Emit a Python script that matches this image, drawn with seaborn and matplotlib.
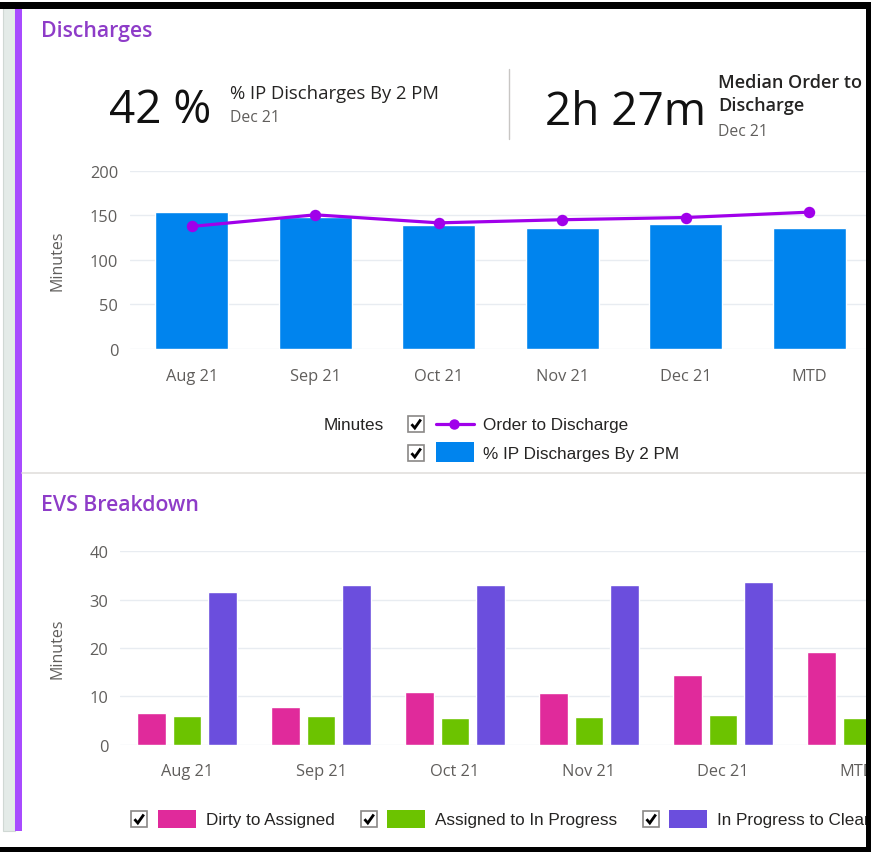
import matplotlib
matplotlib.use("Agg")
import matplotlib.pyplot as plt
from matplotlib.patches import Rectangle
from matplotlib.lines import Line2D
import seaborn as sns
import pandas as pd

# ---------------- data ----------------
months = ["Aug 21", "Sep 21", "Oct 21", "Nov 21", "Dec 21", "MTD"]
ip_discharges_by_2pm = [154, 148, 139, 136, 140.5, 135.5]
order_to_discharge = [137.5, 150.5, 141.5, 145, 147.5, 153.5]

evs_series = ["Dirty to Assigned", "Assigned to In Progress", "In Progress to Clean"]
dirty_to_assigned = [6.5, 7.8, 11.0, 10.6, 14.4, 19.2]
assigned_to_in_progress = [5.9, 5.9, 5.6, 5.7, 6.1, 5.5]
in_progress_to_clean = [31.5, 33.0, 33.1, 33.0, 33.6, 32.0]

top_yticks = [0, 50, 100, 150, 200]
bottom_yticks = [0, 10, 20, 30, 40]

# ---------------- style ----------------
sns.set_style("white")
plt.rcParams["font.family"] = ["Open Sans", "DejaVu Sans"]

BLUE = "#0084EE"
LINE_PURPLE = "#A000EA"
PINK = "#E02A9B"
GREEN = "#6CC300"
VIOLET = "#6B4EDD"
TITLE_PURPLE = "#8E3CC8"
GRAY_TXT = "#605E5C"
GRID = "#E8ECF1"

W, H = 871, 853
fig = plt.figure(figsize=(W / 100, H / 100), dpi=100)
fig.patch.set_facecolor("white")


def ax_rect(left, top, right, bottom):
    return [left / W, 1 - bottom / H, (right - left) / W, (bottom - top) / H]


# ---------------- top chart ----------------
ax1 = fig.add_axes(ax_rect(130, 171.7, 871, 350))
sns.barplot(x=months, y=ip_discharges_by_2pm, color=BLUE, saturation=1,
            width=0.59, ax=ax1)
sns.pointplot(x=months, y=order_to_discharge, color=LINE_PURPLE, errorbar=None,
              markers="o", markersize=6.5, linewidth=2.3, ax=ax1)
ax1.set_xlim(-0.5, 5.5)
ax1.set_ylim(0, 200)
ax1.set_yticks(top_yticks)

# ---------------- bottom chart ----------------
df = pd.DataFrame({
    "Month": months * 3,
    "Minutes": dirty_to_assigned + assigned_to_in_progress + in_progress_to_clean,
    "Series": [evs_series[0]] * 6 + [evs_series[1]] * 6 + [evs_series[2]] * 6,
})
ax2 = fig.add_axes(ax_rect(120, 552.3, 924, 745.7))
sns.barplot(data=df, x="Month", y="Minutes", hue="Series", hue_order=evs_series,
            palette=[PINK, GREEN, VIOLET], saturation=1, width=0.8, gap=0.2,
            legend=False, ax=ax2)
ax2.set_xlim(-0.5, 5.5)
ax2.set_ylim(0, 40)
ax2.set_yticks(bottom_yticks)

for ax in (ax1, ax2):
    for s in ax.spines.values():
        s.set_visible(False)
    ax.set_xlabel("")
    ax.set_ylabel("")
    ax.yaxis.grid(True, color=GRID, lw=1)
    ax.xaxis.grid(False)
    ax.set_axisbelow(True)
    ax.tick_params(axis="y", length=0, pad=8.5, labelsize=11.8, labelcolor=GRAY_TXT)
    ax.tick_params(axis="x", length=0, pad=13.5, labelsize=11.8, labelcolor=GRAY_TXT)
    ax.set_facecolor("none")

# ---------------- overlay (pixel coords) ----------------
ov = fig.add_axes([0, 0, 1, 1], zorder=10)
ov.set_xlim(0, W)
ov.set_ylim(H, 0)
ov.axis("off")

# left decorative strips
ov.add_patch(Rectangle((3, 9), 12, 823, facecolor="#E4EBE8", edgecolor="#D0D8D4", lw=0.8))
ov.add_patch(Rectangle((15, 9), 6.5, 823, facecolor="#A84BFF", edgecolor="none"))

# titles
ov.text(41, 37, "Discharges", fontsize=15.3, fontweight="semibold",
        color=TITLE_PURPLE, va="baseline", ha="left")
ov.text(41, 511, "EVS Breakdown", fontsize=15.3, fontweight="semibold",
        color=TITLE_PURPLE, va="baseline", ha="left")

# KPI cards
ov.text(109, 123, "42 %", fontsize=33, fontweight="medium", color="#111111",
        va="baseline", ha="left")
ov.text(230, 99, "% IP Discharges By 2 PM", fontsize=13.3, color="#252423",
        va="baseline", ha="left")
ov.text(230, 122, "Dec 21", fontsize=11.3, color=GRAY_TXT, va="baseline", ha="left")

ov.plot([509, 509], [70, 140], color="#C8C6C4", lw=1)

ov.text(545, 125, "2h 27m", fontsize=33, fontweight="medium", color="#111111",
        va="baseline", ha="left")
ov.text(718, 88, "Median Order to", fontsize=13, fontweight="semibold",
        color="#252423", va="baseline", ha="left")
ov.text(718, 111, "Discharge", fontsize=13, fontweight="semibold",
        color="#252423", va="baseline", ha="left")
ov.text(718, 136, "Dec 21", fontsize=11.3, color=GRAY_TXT, va="baseline", ha="left")

# y-axis titles
ov.text(57, 261, "Minutes", rotation=90, fontsize=11.5, color=GRAY_TXT,
        va="center", ha="center")
ov.text(57, 649, "Minutes", rotation=90, fontsize=11.5, color=GRAY_TXT,
        va="center", ha="center")


def checkbox(x, y):
    ov.add_patch(Rectangle((x, y), 16, 16, facecolor="white", edgecolor="#8A8886", lw=1.2))
    ov.add_line(Line2D([x + 3.5, x + 6.8, x + 12.8], [y + 8.2, y + 12, y + 3.5],
                       color="black", lw=2.0, solid_capstyle="butt",
                       solid_joinstyle="miter"))


LEG_FONT = ["Liberation Sans", "DejaVu Sans"]
# top legend
ov.text(324, 430, "Minutes", fontsize=12.3, family=LEG_FONT, color="#252423",
        va="baseline", ha="left")
checkbox(408, 417)
ov.add_line(Line2D([436, 474], [425, 425], color=LINE_PURPLE, lw=2.3))
ov.plot([454], [425], marker="o", markersize=6.5, color=LINE_PURPLE)
ov.text(483, 430, "Order to Discharge", fontsize=12.3, family=LEG_FONT,
        color="#252423", va="baseline", ha="left")
checkbox(408, 446)
ov.add_patch(Rectangle((436, 443), 38, 20, facecolor=BLUE, edgecolor="none"))
ov.text(483, 458.5, "% IP Discharges By 2 PM", fontsize=12.3, family=LEG_FONT,
        color="#252423", va="baseline", ha="left")

# divider
ov.plot([22, 866], [474, 474], color="#E1DFDD", lw=1.2)

# bottom legend
for cx, rx, tx, col, lab in [(131, 158, 206, PINK, evs_series[0]),
                             (361, 387, 435, GREEN, evs_series[1]),
                             (643, 669, 717, VIOLET, evs_series[2])]:
    checkbox(cx, 812)
    ov.add_patch(Rectangle((rx, 811), 38, 18, facecolor=col, edgecolor="none"))
    ov.text(tx, 825.5, lab, fontsize=12.3, family=LEG_FONT, color="#252423",
            va="baseline", ha="left")

# black frame (screenshot border)
ov.add_patch(Rectangle((0, 3), W, 6.5, facecolor="black", edgecolor="none", zorder=20))
ov.add_patch(Rectangle((865.5, 3), 6, H, facecolor="black", edgecolor="none", zorder=20))
ov.add_patch(Rectangle((0, 848), W, 6, facecolor="black", edgecolor="none", zorder=20))

fig.savefig("out.png", dpi=100)
